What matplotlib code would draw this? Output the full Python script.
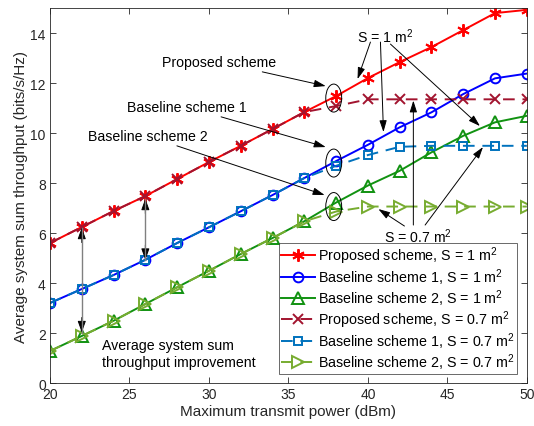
import matplotlib.pyplot as plt
from matplotlib.patches import Ellipse

plt.rcParams['font.family'] = ['Liberation Sans', 'DejaVu Sans']
plt.rcParams['mathtext.fontset'] = 'custom'
plt.rcParams['mathtext.rm'] = 'Liberation Sans'
plt.rcParams['mathtext.it'] = 'Liberation Sans:italic'

power = [20, 22, 24, 26, 28, 30, 32, 34, 36, 38, 40, 42, 44, 46, 48, 50]

proposed_s1 = [5.6, 6.24, 6.88, 7.48, 8.16, 8.84, 9.49, 10.16, 10.84, 11.48,
               12.2, 12.84, 13.44, 14.12, 14.8, 14.93]
base1_s1 = [3.2, 3.76, 4.32, 4.93, 5.6, 6.23, 6.87, 7.52, 8.2, 8.88,
            9.53, 10.23, 10.83, 11.56, 12.19, 12.38]
base2_s1 = [1.28, 1.88, 2.49, 3.16, 3.83, 4.49, 5.16, 5.8, 6.47, 7.22,
            7.9, 8.49, 9.23, 9.89, 10.43, 10.69]

proposed_s07 = [5.6, 6.24, 6.88, 7.48, 8.16, 8.84, 9.49, 10.16, 10.84, 11.08,
                11.35, 11.35, 11.35, 11.35, 11.35, 11.35]
base1_s07 = [3.2, 3.76, 4.32, 4.93, 5.6, 6.23, 6.87, 7.52, 8.2, 8.69,
             9.12, 9.45, 9.49, 9.49, 9.49, 9.49]
base2_s07 = [1.28, 1.88, 2.49, 3.16, 3.83, 4.49, 5.16, 5.8, 6.47, 6.86,
             7.06, 7.06, 7.06, 7.06, 7.06, 7.06]

fig = plt.figure(figsize=(5.34, 4.27), dpi=100)
ax = fig.add_axes([0.0936, 0.1007, 0.893, 0.878])

lw = 1.4
ms = 7
asterisk = (6, 2, 0)
ax.plot(power, proposed_s1, '-', color='#ff0000', marker=asterisk, ms=ms + 2, mew=1.4, lw=lw,
        label='Proposed scheme, S = 1 m$^2$')
ax.plot(power, base1_s1, '-', color='#0000ff', marker='o', ms=ms, mfc='none', mew=1.4, lw=lw,
        label='Baseline scheme 1, S = 1 m$^2$')
ax.plot(power, base2_s1, '-', color='#119211', marker='^', ms=ms + 1, mfc='none', mew=1.4, lw=lw,
        label='Baseline scheme 2, S = 1 m$^2$')
ax.plot(power, proposed_s07, '--', color='#a2142f', marker='x', ms=ms, mew=1.4, lw=lw,
        dashes=(6, 4), label='Proposed scheme, S = 0.7 m$^2$')
ax.plot(power, base1_s07, '--', color='#0072bd', marker='s', ms=ms - 1, mfc='none', mew=1.4, lw=lw,
        dashes=(6, 4), label='Baseline scheme 1, S = 0.7 m$^2$')
ax.plot(power, base2_s07, '--', color='#77ac30', marker='>', ms=ms + 1, mfc='none', mew=1.4, lw=lw,
        dashes=(6, 4), label='Baseline scheme 2, S = 0.7 m$^2$')

ax.set_xlim(20, 50)
ax.set_ylim(0, 15)
ax.set_xticks([20, 25, 30, 35, 40, 45, 50])
ax.set_yticks([0, 2, 4, 6, 8, 10, 12, 14])
ax.tick_params(direction='in', top=True, right=True, labelsize=10, colors='#262626',
               length=4, width=0.6, pad=3)
for s in ax.spines.values():
    s.set_linewidth(0.6)
    s.set_color('#262626')
ax.set_xlabel('Maximum transmit power (dBm)', fontsize=11, color='#262626', labelpad=2)
ax.set_ylabel('Average system sum throughput (bits/s/Hz)', fontsize=11, color='#262626', labelpad=2)

leg = ax.legend(loc='lower right', bbox_to_anchor=(0.48, 0.024, 0.5, 0.341),
                mode='expand', fontsize=10.3, frameon=True, fancybox=False,
                edgecolor='#262626', handlelength=2.4, handletextpad=0.15,
                borderpad=0.15, labelspacing=0.02, borderaxespad=0)
leg.get_frame().set_linewidth(0.6)

# ellipses around the 38 dBm points
for cy in [11.4, 8.8, 7.06]:
    ax.add_patch(Ellipse((37.85, cy), 1.0, 1.12, fill=False, ec='black', lw=0.7, zorder=5))

arrow = dict(arrowstyle='-|>,head_length=0.7,head_width=0.22', color='black', lw=0.7,
             shrinkA=0, shrinkB=0)
fs = 10.2

ax.annotate('Proposed scheme', xy=(37.35, 11.88), xytext=(34.2, 12.84), fontsize=fs,
            ha='right', va='center', arrowprops=arrow)
ax.annotate('Baseline scheme 1', xy=(37.35, 9.44), xytext=(32.4, 11.04), fontsize=fs,
            ha='right', va='center', arrowprops=arrow)
ax.annotate('Baseline scheme 2', xy=(37.28, 7.52), xytext=(29.9, 9.88), fontsize=fs,
            ha='right', va='center', arrowprops=arrow)

ax.text(41.1, 13.88, 'S = 1 m$^2$', fontsize=fs, ha='center', va='center')
for start, end in [((40.16, 13.64), (39.35, 12.16)),
                   ((40.79, 13.64), (40.98, 10.04)),
                   ((41.42, 13.56), (47.05, 10.28))]:
    ax.annotate('', xy=end, xytext=start, arrowprops=arrow)

ax.text(43.17, 5.88, 'S = 0.7 m$^2$', fontsize=fs, ha='center', va='center')
for start, end in [((42.86, 6.32), (42.86, 11.3)),
                   ((43.6, 6.32), (47.24, 9.44)),
                   ((42.3, 6.28), (40.66, 6.96))]:
    ax.annotate('', xy=end, xytext=start, arrowprops=arrow)

# improvement double arrows
for xx, top, bottom in [(22, 6.22, 2.02), (26, 7.38, 4.92)]:
    ax.plot([xx, xx], [top, bottom], color='#808080', lw=1.0, zorder=4)
    head = dict(arrowstyle='-|>,head_length=0.7,head_width=0.25', color='black', lw=0.7,
                shrinkA=0, shrinkB=0)
    ax.annotate('', xy=(xx, top), xytext=(xx, top - 0.6), arrowprops=head)
    ax.annotate('', xy=(xx, bottom), xytext=(xx, bottom + 0.6), arrowprops=head)

ax.text(23.26, 1.19, 'Average system sum\nthroughput improvement', fontsize=fs,
        ha='left', va='center', linespacing=1.25)

fig.savefig('out.png', dpi=100)
